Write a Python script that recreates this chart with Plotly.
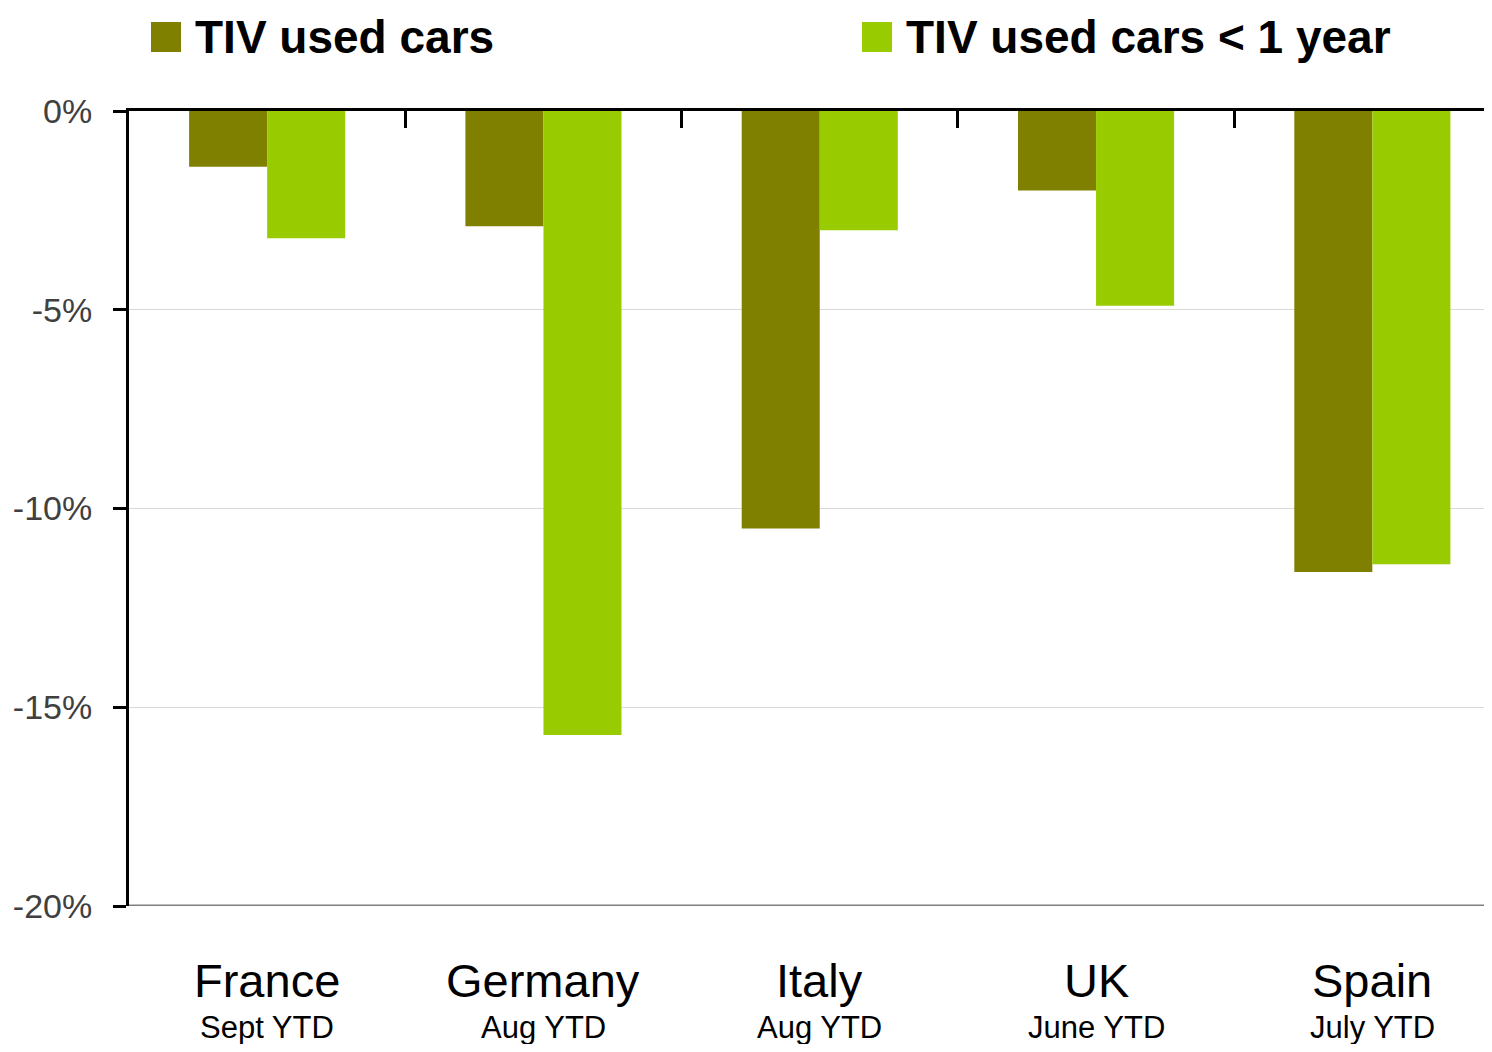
import plotly.graph_objects as go

# data (% change, YTD)
countries = ["France", "Germany", "Italy", "UK", "Spain"]
periods = ["Sept YTD", "Aug YTD", "Aug YTD", "June YTD", "July YTD"]
used_cars = [-1.4, -2.9, -10.5, -2.0, -11.6]
used_cars_1y = [-3.2, -15.7, -3.0, -4.9, -11.4]
y_ticks = [0, -5, -10, -15, -20]
y_labels = ["0%", "-5%", "-10%", "-15%", "-20%"]
series_names = ["TIV used cars", "TIV used cars < 1 year"]
series_colors = ["#808000", "#99CC00"]

# the page puts an 8px body margin round the figure, so work in shifted pixels
OFF = 8
W, H = 1492 - 2 * OFF, 1052 - 2 * OFF
L, T = 129 - OFF, 111 - OFF
B = H - (906 - OFF)
PW, PH = W - L, H - T - B
FONT = "Liberation Sans Narrow, Arial Narrow, Liberation Sans, Arial, sans-serif"


def px(x):
    return (x - OFF - L) / PW


def py(y):
    return (H - B - (y - OFF)) / PH


idx = list(range(len(countries)))

fig = go.Figure()
for name, vals, col in zip(series_names, [used_cars, used_cars_1y], series_colors):
    fig.add_bar(x=idx, y=vals, name=name, marker_color=col, marker_line_width=0)

annotations = []
shapes = []
for i, (c, p) in enumerate(zip(countries, periods)):
    annotations.append(dict(x=i, xref="x", y=0, yref="paper", yshift=-74, text=c,
                            showarrow=False, yanchor="middle",
                            font=dict(family=FONT, size=47, color="black")))
    annotations.append(dict(x=i, xref="x", y=0, yref="paper", yshift=-121, text=p,
                            showarrow=False, yanchor="middle",
                            font=dict(family=FONT, size=31, color="black")))

# legend drawn by hand so the swatches can be as big as the original
leg_x = [151, 862]
leg_y = 37
for name, col, x0 in zip(series_names, series_colors, leg_x):
    shapes.append(dict(type="rect", xref="paper", yref="paper",
                       x0=px(x0), x1=px(x0 + 30), y0=py(leg_y + 15), y1=py(leg_y - 15),
                       fillcolor=col, line_width=0))
    annotations.append(dict(x=px(x0 + 42), xref="paper", y=py(leg_y), yref="paper",
                            xanchor="left", yanchor="middle", showarrow=False,
                            text="<b>" + name + "</b>",
                            font=dict(family=FONT, size=46, color="black")))

# grey base line at -20%
shapes.append(dict(type="line", xref="paper", yref="y", x0=0, x1=1, y0=-20, y1=-20,
                   line=dict(color="#808080", width=3)))

fig.update_layout(
    width=W, height=H,
    margin=dict(l=L, r=0, t=T, b=B),
    paper_bgcolor="white", plot_bgcolor="white",
    barmode="group", bargap=0.435, bargroupgap=0,
    showlegend=False,
    annotations=annotations, shapes=shapes,
    font=dict(family=FONT),
)
fig.update_xaxes(
    range=[-0.5, -0.5 + PW / 276.3], side="top",
    showline=True, linecolor="black", linewidth=3,
    ticks="inside", ticklen=17, tickwidth=3, tickcolor="black",
    tickvals=[i - 0.5 for i in range(len(countries) + 1)],
    showticklabels=False, showgrid=False, zeroline=False,
)
fig.update_yaxes(
    range=[-20, 0], tickvals=y_ticks, ticktext=y_labels,
    showline=True, linecolor="black", linewidth=3,
    ticks="outside", ticklen=13, tickwidth=3, tickcolor="black",
    showgrid=True, gridcolor="#d9d9d9", gridwidth=1, zeroline=False,
    tickfont=dict(family=FONT, size=34, color="#404040"),
    ticklabelstandoff=14,
)

fig.write_html("out.html")
